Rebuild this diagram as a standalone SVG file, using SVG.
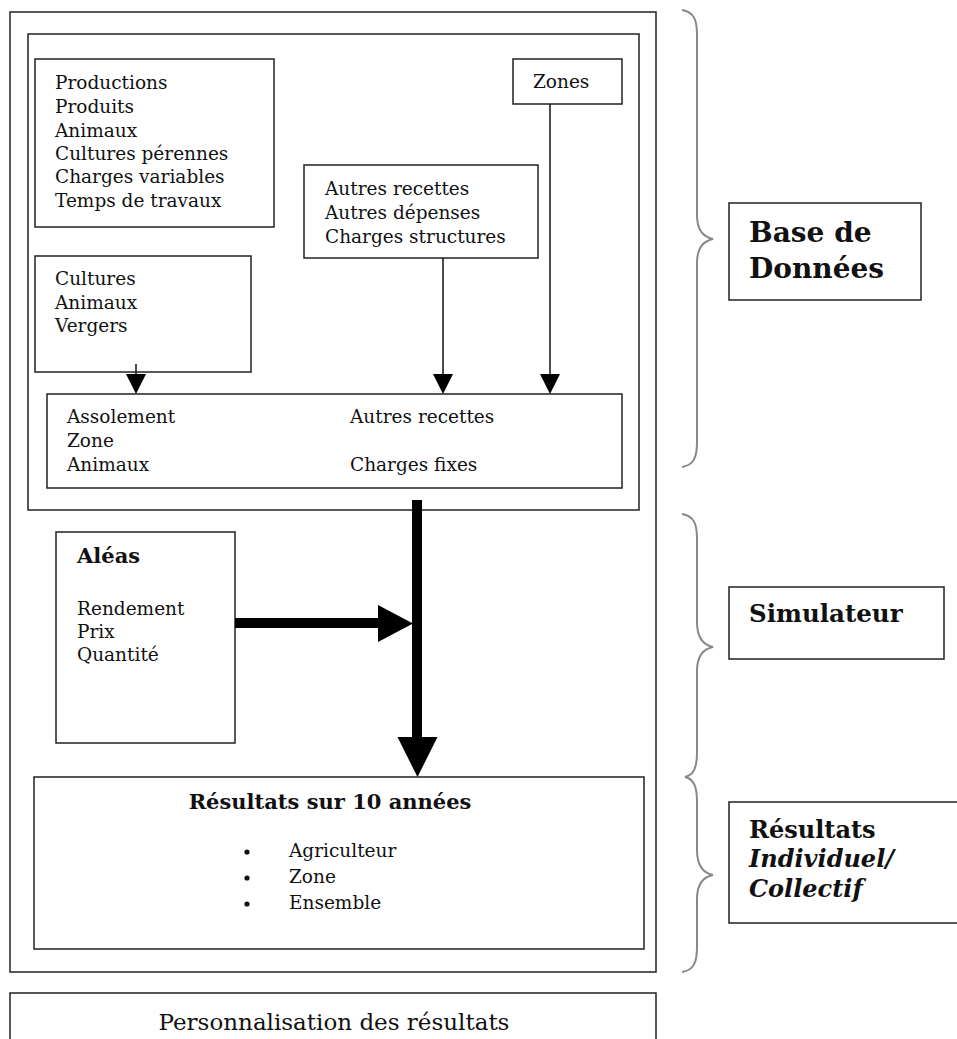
<svg xmlns="http://www.w3.org/2000/svg" width="957" height="1039" viewBox="0 0 957 1039">
<style>
.box{fill:none;stroke:#222;stroke-width:1.5}
.t{font-family:"DejaVu Serif","Liberation Serif",serif;font-size:18.5px;fill:#111}
.big{font-size:23px}
.b{font-family:"DejaVu Serif","Liberation Serif",serif;font-weight:bold;fill:#111}
.bi{font-style:italic}
.ln{stroke:#111;stroke-width:1.5;fill:none}
.thick{stroke:#000;stroke-width:10;fill:none}
.head{fill:#000}
.brace{fill:none;stroke:#888;stroke-width:2}
</style>
<rect width="957" height="1039" fill="#fff"/>
<g id="outer"><rect class="box" x="10" y="12" width="646" height="960"/></g>
<g id="database"><rect class="box" x="28" y="34" width="611" height="476"/></g>
<g id="productions">
<rect class="box" x="35" y="59" width="239" height="168"/>
<text class="t" x="55" y="89">Productions</text>
<text class="t" x="55" y="113">Produits</text>
<text class="t" x="55" y="137">Animaux</text>
<text class="t" x="55" y="160">Cultures pérennes</text>
<text class="t" x="55" y="183">Charges variables</text>
<text class="t" x="55" y="207">Temps de travaux</text>
</g>
<g id="zones">
<rect class="box" x="513" y="59" width="109" height="45"/>
<text class="t" x="533" y="88">Zones</text>
</g>
<g id="autres">
<rect class="box" x="304" y="165" width="234" height="93"/>
<text class="t" x="325" y="195">Autres recettes</text>
<text class="t" x="325" y="219">Autres dépenses</text>
<text class="t" x="325" y="243">Charges structures</text>
</g>
<g id="cultures">
<rect class="box" x="35" y="256" width="216" height="116"/>
<text class="t" x="55" y="285">Cultures</text>
<text class="t" x="55" y="309">Animaux</text>
<text class="t" x="55" y="332">Vergers</text>
</g>
<g id="assolement">
<rect class="box" x="47" y="394" width="575" height="94"/>
<text class="t" x="67" y="423">Assolement</text>
<text class="t" x="67" y="447">Zone</text>
<text class="t" x="67" y="471">Animaux</text>
<text class="t" x="350" y="423">Autres recettes</text>
<text class="t" x="350" y="471">Charges fixes</text>
</g>
<g id="aleas">
<rect class="box" x="56" y="532" width="179" height="211"/>
<text class="b" x="77" y="563" font-size="21">Aléas</text>
<text class="t" x="77" y="615">Rendement</text>
<text class="t" x="77" y="638">Prix</text>
<text class="t" x="77" y="661">Quantité</text>
</g>
<g id="resultats">
<rect class="box" x="34" y="777" width="610" height="172"/>
<text class="b" x="330" y="809" font-size="21" text-anchor="middle">Résultats sur 10 années</text>
<circle cx="247" cy="852" r="2.6" fill="#111"/>
<circle cx="247" cy="878" r="2.6" fill="#111"/>
<circle cx="247" cy="904" r="2.6" fill="#111"/>
<text class="t" x="289" y="857">Agriculteur</text>
<text class="t" x="289" y="883">Zone</text>
<text class="t" x="289" y="909">Ensemble</text>
</g>
<g id="personnalisation">
<rect class="box" x="10" y="993" width="646" height="60"/>
<text class="t big" x="334" y="1030" text-anchor="middle">Personnalisation des résultats</text>
</g>
<g id="label-base">
<rect class="box" x="729" y="203" width="192" height="97"/>
<text class="b" x="749" y="242" font-size="28">Base de</text>
<text class="b" x="749" y="278" font-size="28">Données</text>
</g>
<g id="label-simulateur">
<rect class="box" x="729" y="587" width="215" height="72"/>
<text class="b" x="749" y="622" font-size="24.5">Simulateur</text>
</g>
<g id="label-resultats">
<rect class="box" x="729" y="802" width="240" height="121"/>
<text class="b" x="749" y="838" font-size="24">Résultats</text>
<text class="b bi" x="749" y="867" font-size="24">Individuel/</text>
<text class="b bi" x="749" y="897" font-size="24">Collectif</text>
</g>
<g id="braces">
<path class="brace" d="M682,10 C694,12 697,20 697,35 L697,215 C697,230 703,237 713,239 C703,241 697,248 697,263 L697,442 C697,457 694,465 682,467"/>
<path class="brace" d="M682,514 C694,516 697,524 697,539 L697,622 C697,637 703,645 713,647 C703,649 697,656 697,671 L697,752 C697,767 694,775 685,777"/>
<path class="brace" d="M685,777 C694,779 697,787 697,802 L697,850 C697,865 703,873 713,875 C703,877 697,884 697,899 L697,947 C697,962 694,970 682,972"/>
</g>
<g id="connectors">
<line class="ln" x1="136" y1="364" x2="136" y2="375"/>
<polygon class="head" points="126,374 146,374 136,394"/>
<line class="ln" x1="443" y1="258" x2="443" y2="375"/>
<polygon class="head" points="433,374 453,374 443,394"/>
<line class="ln" x1="550" y1="104" x2="550" y2="375"/>
<polygon class="head" points="540,374 560,374 550,394"/>
<line class="thick" x1="417" y1="500" x2="417" y2="740"/>
<polygon class="head" points="397.5,737 437.5,737 417.5,777"/>
<line class="thick" x1="235" y1="623" x2="380" y2="623"/>
<polygon class="head" points="378,605 378,642 413,623.5"/>
</g>
</svg>
